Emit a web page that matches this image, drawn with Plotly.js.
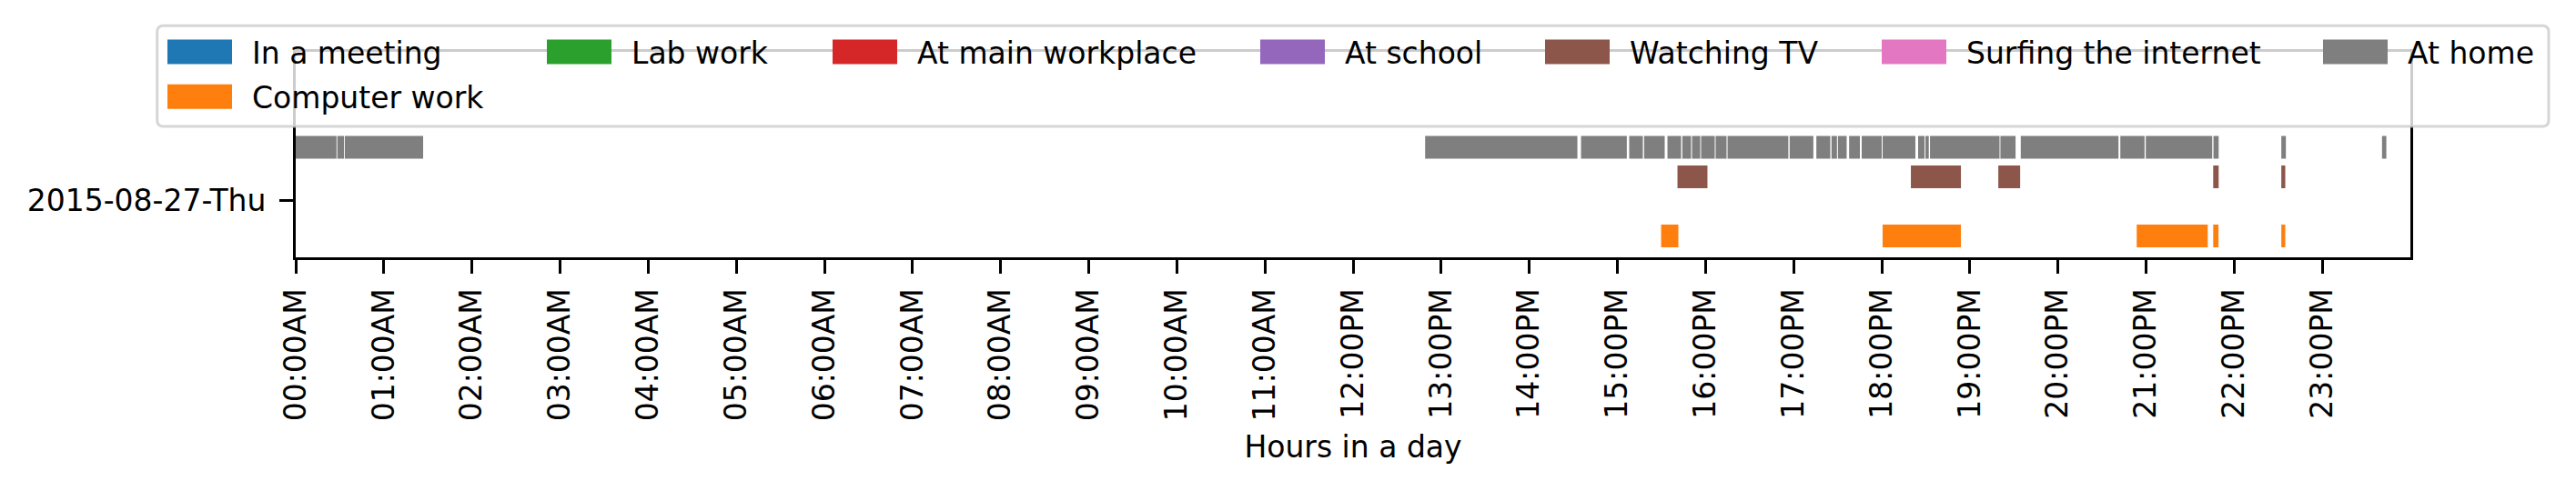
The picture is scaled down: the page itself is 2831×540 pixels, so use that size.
<!DOCTYPE html>
<html>
<head>
<meta charset="utf-8">
<script src="https://cdn.plot.ly/plotly-3.0.1.min.js"></script>
<style>
  html, body { margin: 0; padding: 0; background: #fff; }
  #plot { width: 2831px; height: 540px; }
</style>
</head>
<body>
<div id="plot"></div>
<script>
// activities, in legend order (matplotlib fills the legend column by column)
const activities = ['In a meeting', 'Computer work', 'Lab work', 'At main workplace',
    'At school', 'Watching TV', 'Surfing the internet', 'At home'];
const activityColors = ['#1f77b4', '#ff7f0e', '#2ca02c', '#d62728',
    '#9467bd', '#8c564b', '#e377c2', '#7f7f7f'];

const dayLabel = '2015-08-27-Thu';

const hourTicks = [0, 1, 2, 3, 4, 5, 6, 7, 8, 9, 10, 11, 12, 13, 14, 15, 16, 17, 18, 19, 20, 21, 22, 23];
const hourLabels = ['00:00AM', '01:00AM', '02:00AM', '03:00AM', '04:00AM', '05:00AM',
    '06:00AM', '07:00AM', '08:00AM', '09:00AM', '10:00AM', '11:00AM',
    '12:00PM', '13:00PM', '14:00PM', '15:00PM', '16:00PM', '17:00PM',
    '18:00PM', '19:00PM', '20:00PM', '21:00PM', '22:00PM', '23:00PM'];

// [start, end] in hours of the day
const computerWork = [
    [15.496, 15.692], [18.01, 18.899], [20.894, 21.70], [21.762, 21.822], [22.535, 22.58],
];
const watchingTV = [
    [15.682, 16.022], [18.331, 18.899], [19.323, 19.571], [21.762, 21.824], [22.535, 22.58],
];
const atHome = [
    [0.0, 0.463], [0.472, 0.548], [0.557, 1.446],
    [12.818, 14.546], [14.587, 15.107], [15.134, 15.289], [15.303, 15.537],
    [15.568, 15.723], [15.737, 15.836], [15.847, 15.94], [15.95, 16.105],
    [16.115, 16.239], [16.25, 16.94], [16.955, 17.224], [17.258, 17.416],
    [17.43, 17.492], [17.503, 17.602], [17.63, 17.752], [17.773, 18.0],
    [18.01, 18.382], [18.413, 18.486], [18.496, 18.534], [18.548, 19.337],
    [19.347, 19.519], [19.578, 20.687], [20.708, 20.983], [20.997, 21.751],
    [21.765, 21.824], [22.535, 22.587], [23.678, 23.727],
];

const segments = {
    'In a meeting': [],
    'Computer work': computerWork,
    'Lab work': [],
    'At main workplace': [],
    'At school': [],
    'Watching TV': watchingTV,
    'Surfing the internet': [],
    'At home': atHome,
};

// ---- layout geometry (pixels of the 2831x540 figure) ----
const W = 2831, H = 540;
const plotL = 325, plotR = 2649, plotT = 57, plotB = 283;
const FONT = 'DejaVu Sans';
const FS = 33;

function px2x(px) { return (px - plotL) / (plotR - plotL); }
function px2y(py) { return (plotB - py) / (plotB - plotT); }

function runPlot() {
    var plotdiv = document.querySelector('#plot');

    var data = [];
    activities.forEach((name, i) => {
        var segs = segments[name];
        data.push({
            type: 'bar',
            orientation: 'h',
            name: name,
            y: segs.map(() => i),
            base: segs.map(s => s[0]),
            x: segs.map(s => s[1] - s[0]),
            width: 1.538,
            marker: { color: activityColors[i], line: { width: 0 } },
            showlegend: false,
            hovertemplate: name + ' %{base:.2f}h - %{x:.2f}h<extra></extra>',
        });
    });

    // hand made legend, same look as the matplotlib one (7 columns, 2 rows)
    var colX = [184, 601, 915, 1385, 1698, 2068, 2553];
    var rowY = [57, 106.3];
    var slots = [[0, 0], [0, 1], [1, 0], [2, 0], [3, 0], [4, 0], [5, 0], [6, 0]];

    var x0 = 172.7, y0 = 28.3, x1 = 2801, y1 = 139, r = 7;
    var p = (a, b) => px2x(a) + ',' + px2y(b);
    var frame = 'M' + p(x0 + r, y0) + ' L' + p(x1 - r, y0) + ' Q' + p(x1, y0) + ' ' + p(x1, y0 + r) +
        ' L' + p(x1, y1 - r) + ' Q' + p(x1, y1) + ' ' + p(x1 - r, y1) +
        ' L' + p(x0 + r, y1) + ' Q' + p(x0, y1) + ' ' + p(x0, y1 - r) +
        ' L' + p(x0, y0 + r) + ' Q' + p(x0, y0) + ' ' + p(x0 + r, y0) + ' Z';

    var shapes = [{
        type: 'path', xref: 'paper', yref: 'paper', layer: 'above',
        path: frame,
        fillcolor: 'rgba(255,255,255,0.8)',
        line: { color: 'rgba(204,204,204,0.8)', width: 3 },
    }];
    var annotations = [];

    activities.forEach((name, i) => {
        var cx = colX[slots[i][0]];
        var cy = rowY[slots[i][1]];
        shapes.push({
            type: 'rect', xref: 'paper', yref: 'paper', layer: 'above',
            x0: px2x(cx), x1: px2x(cx + 71),
            y0: px2y(cy - 13.5), y1: px2y(cy + 13.5),
            fillcolor: activityColors[i],
            line: { width: 0 },
        });
        annotations.push({
            xref: 'paper', yref: 'paper',
            x: px2x(cx + 91), y: px2y(cy + 1),
            xanchor: 'left', yanchor: 'middle',
            text: name, showarrow: false,
            font: { family: FONT, size: FS, color: '#000' },
        });
    });

    var layout = {
        width: W,
        height: H,
        margin: { l: plotL, r: W - plotR, t: plotT, b: H - plotB, pad: 0 },
        paper_bgcolor: '#fff',
        plot_bgcolor: '#fff',
        font: { family: FONT, size: FS, color: '#000' },
        barmode: 'overlay',
        showlegend: false,
        xaxis: {
            range: [0, 24],
            tickmode: 'array',
            tickvals: hourTicks,
            ticktext: hourLabels,
            tickangle: -90,
            ticks: 'outside',
            ticklen: 15,
            tickwidth: 3,
            tickcolor: '#000',
            ticklabelstandoff: 3,
            showline: true,
            linewidth: 3,
            linecolor: '#000',
            mirror: true,
            showgrid: false,
            zeroline: false,
            automargin: false,
            fixedrange: true,
            title: { text: 'Hours in a day', font: { family: FONT, size: FS }, standoff: 18 },
        },
        yaxis: {
            range: [-0.446, 13.462],
            tickmode: 'array',
            tickvals: [3.431],
            ticktext: [dayLabel],
            ticks: 'outside',
            ticklen: 15,
            tickwidth: 3,
            tickcolor: '#000',
            ticklabelstandoff: 8,
            showline: true,
            linewidth: 3,
            linecolor: '#000',
            mirror: true,
            showgrid: false,
            zeroline: false,
            automargin: false,
            fixedrange: true,
        },
        shapes: shapes,
        annotations: annotations,
    };

    var config = { displayModeBar: false };

    Plotly.newPlot(plotdiv, data, layout, config);
}

runPlot();
</script>
</body>
</html>
